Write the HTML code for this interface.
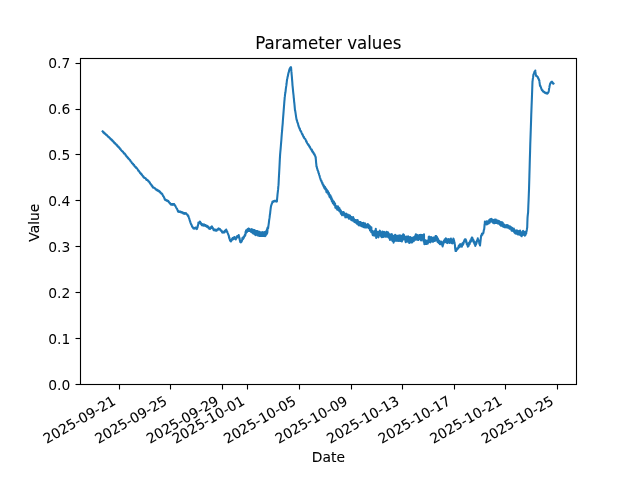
<!DOCTYPE html>
<html lang="en">
<head>
<meta charset="utf-8">
<title>Parameter values</title>
<style>
html,body{margin:0;padding:0;background:#fff;}
body{width:640px;height:480px;overflow:hidden;}
svg{display:block;}
text{font-family:'DejaVu Sans', 'Liberation Sans', sans-serif;fill:#000;}
.t{font-size:13.889px;}
.ttl{font-size:16.667px;}
.ax{stroke:#000;stroke-width:1.111;fill:none;}
</style>
</head>
<body>
<svg width="640" height="480" viewBox="0 0 640 480">
<rect x="0" y="0" width="640" height="480" fill="#fff"/>
<path d="M102.60 131.31 L102.85 131.46 L103.10 132.13 L103.35 132.55 L103.60 132.05 L103.85 132.41 L104.10 132.68 L104.35 133.29 L104.60 133.63 L104.85 133.72 L105.10 133.45 L105.35 134.17 L105.60 134.54 L105.85 134.58 L106.10 134.39 L106.25 135.00 L106.35 135.05 L106.60 134.79 L106.85 135.20 L107.10 135.29 L107.35 135.68 L107.60 136.37 L107.85 136.67 L108.10 136.40 L108.35 136.60 L108.60 136.69 L108.85 137.52 L109.10 137.11 L109.35 137.50 L109.60 137.72 L109.85 137.94 L110.10 138.60 L110.35 138.46 L110.60 139.17 L110.85 139.36 L111.10 139.02 L111.35 139.81 L111.60 139.59 L111.85 139.75 L112.10 140.64 L112.35 140.78 L112.50 140.42 L112.60 140.49 L112.85 141.28 L113.10 141.16 L113.35 141.84 L113.60 141.58 L113.85 142.32 L114.10 142.73 L114.35 142.96 L114.60 143.22 L114.85 142.85 L115.10 143.66 L115.35 143.49 L115.60 143.72 L115.85 144.41 L116.10 144.58 L116.35 144.90 L116.60 144.60 L116.85 144.96 L117.10 145.34 L117.35 146.11 L117.60 145.69 L117.85 146.09 L118.10 146.37 L118.35 147.14 L118.60 146.72 L118.75 147.00 L118.85 147.48 L119.10 147.81 L119.35 147.71 L119.60 147.87 L119.85 148.79 L120.10 149.05 L120.35 149.19 L120.60 149.16 L120.85 149.84 L121.10 150.02 L121.35 150.43 L121.60 150.60 L121.85 151.05 L122.10 151.31 L122.35 151.10 L122.60 151.74 L122.85 151.70 L123.10 151.88 L123.35 152.61 L123.60 152.93 L123.85 152.85 L124.10 153.56 L124.35 153.27 L124.60 153.59 L124.85 153.83 L125.10 154.10 L125.35 154.42 L125.60 155.29 L125.85 155.64 L126.10 155.29 L126.35 156.16 L126.60 156.59 L126.85 156.92 L127.10 156.72 L127.35 156.85 L127.60 157.64 L127.85 158.07 L128.10 157.77 L128.35 158.68 L128.60 158.52 L128.85 158.76 L129.10 159.22 L129.35 159.33 L129.60 159.71 L129.85 160.00 L130.00 160.29 L130.10 160.32 L130.35 160.58 L130.60 161.41 L130.85 161.24 L131.10 161.60 L131.35 161.89 L131.60 162.04 L131.85 162.92 L132.10 163.25 L132.35 163.42 L132.60 163.81 L132.85 163.51 L133.10 163.91 L133.35 164.77 L133.60 164.86 L133.85 164.84 L134.10 165.00 L134.35 165.92 L134.60 166.21 L134.85 166.44 L135.10 166.74 L135.35 166.55 L135.60 166.87 L135.85 167.52 L136.00 167.79 L136.10 167.25 L136.35 167.57 L136.60 167.89 L136.85 168.19 L137.10 168.50 L137.35 168.88 L137.60 169.30 L137.85 169.65 L138.10 170.28 L138.35 170.75 L138.60 170.53 L138.85 170.84 L139.10 171.14 L139.35 171.86 L139.60 171.87 L139.85 172.56 L140.10 172.97 L140.35 173.27 L140.60 173.05 L140.85 173.23 L141.10 174.18 L141.35 173.87 L141.60 174.77 L141.85 174.55 L142.10 175.29 L142.35 175.61 L142.60 175.61 L142.85 175.77 L143.10 176.64 L143.35 176.43 L143.50 176.58 L143.60 177.25 L143.85 177.42 L144.10 177.74 L144.35 177.97 L144.60 178.07 L144.85 177.92 L145.10 178.02 L145.35 178.27 L145.60 178.50 L145.85 178.59 L146.10 179.39 L146.35 179.64 L146.60 179.85 L146.85 179.65 L147.10 179.74 L147.35 179.89 L147.60 180.20 L147.85 180.39 L148.10 180.74 L148.35 181.49 L148.50 180.95 L148.60 181.54 L148.85 181.35 L149.10 181.68 L149.35 181.89 L149.60 182.86 L149.85 182.50 L150.00 183.29 L150.10 183.46 L150.35 183.82 L150.60 183.71 L150.85 184.36 L151.10 184.76 L151.35 184.76 L151.60 185.60 L151.85 185.43 L152.10 185.63 L152.35 186.66 L152.60 186.33 L152.85 186.91 L153.10 187.74 L153.35 187.40 L153.60 187.50 L153.85 187.74 L154.10 187.78 L154.35 187.89 L154.60 188.07 L154.85 188.34 L155.10 188.58 L155.35 188.74 L155.60 189.51 L155.85 189.08 L156.10 189.14 L156.25 189.74 L156.35 189.39 L156.60 190.01 L156.85 189.71 L157.10 190.32 L157.35 189.89 L157.60 190.67 L157.85 190.17 L158.10 191.02 L158.35 190.59 L158.60 191.16 L158.85 191.31 L159.10 190.86 L159.35 191.72 L159.40 191.16 L159.60 191.86 L159.85 191.51 L160.10 192.43 L160.35 192.07 L160.60 192.89 L160.85 192.98 L161.10 193.22 L161.35 193.59 L161.60 193.71 L161.85 193.42 L162.10 194.20 L162.35 194.03 L162.50 194.59 L162.60 194.95 L162.85 195.42 L163.10 195.99 L163.35 195.98 L163.60 196.55 L163.85 196.94 L164.10 197.91 L164.35 197.91 L164.60 199.00 L164.85 199.13 L165.00 199.27 L165.10 199.91 L165.35 199.39 L165.60 200.20 L165.85 199.85 L166.10 199.94 L166.35 200.09 L166.60 200.59 L166.85 200.22 L167.10 200.37 L167.35 201.08 L167.60 201.07 L167.85 201.12 L168.10 200.84 L168.35 201.65 L168.60 201.33 L168.85 202.26 L169.10 202.07 L169.35 202.83 L169.60 203.11 L169.85 202.85 L170.10 203.56 L170.35 203.92 L170.60 203.70 L170.85 204.29 L171.10 204.68 L171.25 204.44 L171.35 204.35 L171.60 204.19 L171.85 204.67 L172.10 204.78 L172.35 204.85 L172.60 204.11 L172.85 204.74 L173.10 204.11 L173.35 204.22 L173.60 204.06 L173.85 204.70 L174.10 203.96 L174.35 204.86 L174.60 204.73 L174.85 205.23 L175.10 205.38 L175.35 206.24 L175.60 206.28 L175.85 206.97 L176.10 207.40 L176.25 207.54 L176.35 207.86 L176.60 208.45 L176.85 208.51 L177.10 209.03 L177.35 210.05 L177.60 210.08 L177.85 211.03 L178.10 211.73 L178.35 211.21 L178.60 211.30 L178.85 211.90 L179.10 211.43 L179.35 211.99 L179.60 211.55 L179.85 211.62 L180.10 211.65 L180.35 211.58 L180.60 212.20 L180.85 212.31 L181.10 211.84 L181.25 212.43 L181.35 212.01 L181.60 211.95 L181.85 212.08 L182.10 212.78 L182.35 212.47 L182.60 212.39 L182.85 212.52 L183.10 213.32 L183.35 213.42 L183.60 213.55 L183.75 213.00 L183.85 213.18 L184.10 213.02 L184.35 213.64 L184.60 213.12 L184.85 213.81 L185.10 213.34 L185.35 213.15 L185.60 213.39 L185.85 213.75 L186.10 213.27 L186.35 213.82 L186.60 213.94 L186.85 214.36 L187.10 214.27 L187.35 214.60 L187.60 214.84 L187.85 215.84 L188.10 216.27 L188.35 216.14 L188.40 216.04 L188.60 216.69 L188.85 217.56 L189.10 218.30 L189.35 218.85 L189.60 220.12 L189.85 220.49 L190.00 221.26 L190.10 221.18 L190.35 222.32 L190.60 223.00 L190.85 223.63 L191.10 224.31 L191.35 224.32 L191.60 225.03 L191.85 225.77 L191.90 225.93 L192.10 226.71 L192.35 226.46 L192.60 226.90 L192.85 227.79 L193.10 227.61 L193.35 228.33 L193.60 227.97 L193.85 227.97 L194.10 228.69 L194.35 228.12 L194.40 228.22 L194.60 228.56 L194.85 228.56 L195.10 228.20 L195.35 227.64 L195.60 227.48 L195.85 228.17 L196.10 228.38 L196.35 228.55 L196.60 228.66 L196.85 228.86 L196.90 229.09 L197.10 227.34 L197.35 227.83 L197.60 227.13 L197.70 225.86 L197.85 226.06 L198.10 224.86 L198.35 223.80 L198.40 222.54 L198.60 223.44 L198.85 223.24 L199.10 223.28 L199.35 222.97 L199.60 223.06 L199.85 221.65 L200.00 221.72 L200.10 222.74 L200.35 222.32 L200.60 222.42 L200.85 223.84 L201.10 223.31 L201.35 224.28 L201.60 224.85 L201.85 225.21 L201.90 224.94 L202.10 224.07 L202.35 224.34 L202.60 225.36 L202.85 224.52 L203.10 224.62 L203.35 225.40 L203.60 225.63 L203.85 224.42 L204.10 225.53 L204.35 225.54 L204.40 224.60 L204.60 224.94 L204.85 225.11 L205.10 225.94 L205.35 225.00 L205.60 225.29 L205.85 226.14 L206.10 225.62 L206.35 226.34 L206.60 226.53 L206.85 226.80 L206.90 225.79 L207.10 225.75 L207.35 226.84 L207.60 227.25 L207.85 226.29 L208.10 226.70 L208.35 227.67 L208.60 227.10 L208.85 228.33 L209.10 228.18 L209.35 228.59 L209.60 227.78 L209.85 227.98 L210.00 228.80 L210.10 228.95 L210.35 228.58 L210.60 227.56 L210.85 227.36 L211.10 228.08 L211.35 226.73 L211.60 226.71 L211.85 226.36 L211.90 226.44 L212.10 226.56 L212.35 228.16 L212.60 228.37 L212.85 227.88 L213.10 228.47 L213.35 228.80 L213.60 230.14 L213.75 229.39 L213.85 229.33 L214.10 229.36 L214.35 230.25 L214.60 229.45 L214.85 230.53 L215.10 230.43 L215.35 229.64 L215.60 229.85 L215.85 230.71 L216.10 230.77 L216.25 230.80 L216.35 230.56 L216.60 230.65 L216.85 230.41 L217.10 230.13 L217.35 229.19 L217.60 229.86 L217.85 229.79 L218.10 229.78 L218.35 228.60 L218.60 229.41 L218.75 228.49 L218.85 228.69 L219.10 228.77 L219.35 228.99 L219.60 229.15 L219.85 228.96 L220.10 229.39 L220.35 230.23 L220.60 230.38 L220.85 230.77 L221.10 230.32 L221.35 230.40 L221.60 230.72 L221.85 230.98 L222.10 232.36 L222.35 231.80 L222.50 231.86 L222.60 231.75 L222.85 232.58 L223.10 232.70 L223.35 232.35 L223.60 231.77 L223.85 231.66 L224.10 231.66 L224.35 231.44 L224.40 231.40 L224.60 232.41 L224.85 230.83 L225.10 231.63 L225.35 231.47 L225.60 230.02 L225.85 230.10 L226.10 230.57 L226.25 229.51 L226.35 230.70 L226.60 230.57 L226.85 231.80 L227.10 231.31 L227.35 231.95 L227.60 232.78 L227.85 233.40 L228.10 234.13 L228.35 234.50 L228.60 235.45 L228.85 236.14 L229.10 237.74 L229.35 237.45 L229.60 239.09 L229.85 239.70 L230.10 240.79 L230.35 240.01 L230.60 240.66 L230.85 241.49 L231.10 240.08 L231.35 240.82 L231.60 239.37 L231.85 239.29 L232.10 238.81 L232.35 239.82 L232.50 239.58 L232.60 237.99 L232.85 237.79 L233.10 239.35 L233.35 238.88 L233.60 237.60 L233.85 238.68 L234.10 238.03 L234.35 237.06 L234.40 237.05 L234.60 238.31 L234.85 238.67 L235.10 238.84 L235.35 238.05 L235.60 239.33 L235.85 239.43 L236.10 237.48 L236.35 237.38 L236.60 237.98 L236.85 236.28 L236.90 236.46 L237.10 237.34 L237.35 237.31 L237.60 236.12 L237.85 235.74 L238.10 236.76 L238.35 236.83 L238.60 236.66 L238.75 235.13 L238.85 235.88 L239.10 236.56 L239.35 238.52 L239.60 238.19 L239.85 240.27 L240.10 241.27 L240.35 242.24 L240.60 241.86 L240.85 242.37 L241.10 242.00 L241.35 241.90 L241.60 241.12 L241.85 240.95 L242.10 240.40 L242.35 238.48 L242.50 237.73 L242.60 237.96 L242.85 237.72 L243.10 238.99 L243.35 237.49 L243.60 236.87 L243.85 237.94 L244.10 236.35 L244.35 236.40 L244.40 236.38 L244.60 235.61 L244.85 234.83 L245.10 235.76 L245.35 234.94 L245.60 231.89 L245.85 233.41 L246.10 230.34 L246.25 230.23 L246.35 232.43 L246.60 230.11 L246.85 232.08 L247.10 231.50 L247.35 229.47 L247.60 229.20 L247.85 230.83 L248.00 228.94 L248.10 230.92 L248.35 230.56 L248.60 228.45 L248.85 230.96 L249.10 228.67 L249.35 230.85 L249.60 230.54 L249.85 230.40 L250.00 230.58 L250.10 230.75 L250.35 230.82 L250.60 231.26 L250.85 231.69 L251.10 229.19 L251.35 231.86 L251.60 229.37 L251.85 229.30 L252.10 232.34 L252.35 230.05 L252.50 229.50 L252.60 232.97 L252.85 230.26 L253.10 229.98 L253.35 233.56 L253.60 230.14 L253.85 233.38 L254.10 233.65 L254.35 234.08 L254.60 230.03 L254.85 234.41 L255.10 234.50 L255.35 234.50 L255.60 235.08 L255.85 231.01 L256.10 234.73 L256.25 231.40 L256.35 230.96 L256.60 234.82 L256.85 234.59 L257.10 234.84 L257.35 231.09 L257.60 235.47 L257.85 231.30 L258.10 234.77 L258.35 231.63 L258.60 235.33 L258.75 231.72 L258.85 235.25 L259.10 235.81 L259.35 231.74 L259.60 235.87 L259.85 232.03 L260.10 235.98 L260.35 236.04 L260.60 235.49 L260.85 232.65 L261.10 235.78 L261.35 232.34 L261.60 232.78 L261.85 236.02 L261.90 232.65 L262.10 235.86 L262.35 232.42 L262.60 232.22 L262.85 235.99 L263.10 232.37 L263.35 235.98 L263.60 232.76 L263.85 236.02 L264.10 232.18 L264.35 232.74 L264.60 232.09 L264.85 232.34 L265.00 233.12 L265.10 236.21 L265.35 235.82 L265.60 235.51 L265.85 231.36 L266.10 234.68 L266.35 234.55 L266.60 234.00 L266.85 229.84 L267.10 233.48 L267.30 228.17 L267.35 232.54 L267.60 227.80 L267.85 227.31 L268.10 228.33 L268.35 226.44 L268.60 224.55 L268.85 222.77 L269.10 220.53 L269.35 218.74 L269.40 218.52 L269.60 217.42 L269.85 215.00 L270.10 213.61 L270.35 211.18 L270.60 209.22 L270.85 207.23 L271.00 206.40 L271.10 205.81 L271.35 205.03 L271.60 204.32 L271.85 203.62 L272.10 203.43 L272.35 202.05 L272.50 201.58 L272.60 201.99 L272.85 202.10 L273.10 201.47 L273.35 201.24 L273.60 201.74 L273.85 201.51 L274.10 201.48 L274.35 200.75 L274.40 200.74 L274.60 201.29 L274.85 201.20 L275.10 200.76 L275.35 201.24 L275.60 200.84 L275.85 201.41 L276.10 200.86 L276.35 201.47 L276.60 200.99 L276.85 201.58 L276.90 201.49 L277.10 199.00 L277.35 196.41 L277.50 194.69 L277.60 193.70 L277.85 191.68 L278.10 189.38 L278.35 186.14 L278.50 185.18 L278.60 183.40 L278.85 178.02 L279.10 173.64 L279.35 168.97 L279.60 164.08 L279.85 158.86 L280.00 156.43 L280.10 154.68 L280.35 151.74 L280.60 149.08 L280.85 145.96 L281.10 142.90 L281.35 140.00 L281.60 136.35 L281.85 133.21 L282.10 130.71 L282.35 127.06 L282.60 124.59 L282.75 122.81 L282.85 120.97 L283.10 117.70 L283.35 114.61 L283.60 111.42 L283.85 108.05 L284.10 105.02 L284.35 101.66 L284.60 99.07 L284.70 97.30 L284.85 96.70 L285.10 94.14 L285.35 92.80 L285.60 91.10 L285.85 88.59 L286.10 86.86 L286.35 85.41 L286.60 83.49 L286.85 81.09 L287.10 79.18 L287.20 78.95 L287.35 78.40 L287.60 76.87 L287.85 76.22 L288.10 74.78 L288.35 73.50 L288.60 72.53 L288.85 72.02 L289.10 70.54 L289.35 69.84 L289.40 69.23 L289.60 68.94 L289.85 68.58 L290.10 68.04 L290.35 67.77 L290.60 67.23 L290.85 67.59 L291.00 67.13 L291.10 67.80 L291.35 71.14 L291.50 72.23 L291.60 74.02 L291.85 76.64 L292.10 79.80 L292.35 82.89 L292.50 85.32 L292.60 86.15 L292.85 88.64 L293.10 91.34 L293.35 93.65 L293.60 95.75 L293.75 97.86 L293.85 98.15 L294.10 101.32 L294.35 103.25 L294.60 105.87 L294.85 108.75 L295.00 110.30 L295.10 110.24 L295.35 111.75 L295.60 113.32 L295.85 115.21 L296.10 116.83 L296.35 118.30 L296.60 119.73 L296.70 119.68 L296.85 120.10 L297.10 121.10 L297.35 122.23 L297.60 122.65 L297.85 123.35 L298.10 124.16 L298.35 125.43 L298.60 126.19 L298.85 127.09 L299.10 127.18 L299.35 128.23 L299.60 128.84 L299.85 128.65 L300.10 130.12 L300.35 130.61 L300.60 131.06 L300.85 131.07 L301.10 132.05 L301.35 132.07 L301.40 132.32 L301.60 132.66 L301.85 133.59 L302.10 134.08 L302.35 134.46 L302.60 134.31 L302.85 135.51 L303.10 135.91 L303.35 136.49 L303.60 136.97 L303.75 137.28 L303.85 136.76 L304.10 137.91 L304.35 138.35 L304.60 138.54 L304.85 138.52 L305.10 138.81 L305.35 139.26 L305.60 139.78 L305.85 140.17 L306.10 141.30 L306.35 141.73 L306.60 141.32 L306.85 142.66 L307.10 142.94 L307.35 143.34 L307.60 143.70 L307.85 144.20 L308.10 144.07 L308.35 144.37 L308.40 145.13 L308.60 144.87 L308.85 145.26 L309.10 146.13 L309.35 146.09 L309.60 147.19 L309.85 146.90 L310.10 147.22 L310.35 148.15 L310.60 148.52 L310.85 149.13 L311.10 149.40 L311.35 149.88 L311.60 149.46 L311.85 150.67 L312.10 150.26 L312.35 151.44 L312.60 151.95 L312.85 151.57 L313.10 152.66 L313.35 153.04 L313.60 152.61 L313.85 153.85 L314.10 154.36 L314.35 154.52 L314.60 154.21 L314.85 155.47 L315.10 155.95 L315.35 156.18 L315.50 156.52 L315.60 157.51 L315.85 159.24 L316.10 162.58 L316.35 164.67 L316.50 166.77 L316.60 166.35 L316.85 167.14 L317.10 168.64 L317.35 168.85 L317.60 170.36 L317.85 170.45 L318.10 171.18 L318.30 171.55 L318.35 172.45 L318.60 173.28 L318.85 173.28 L319.10 174.79 L319.35 175.19 L319.60 175.86 L319.85 177.26 L320.10 178.03 L320.35 178.40 L320.60 179.61 L320.85 180.18 L321.10 180.91 L321.35 180.63 L321.60 181.36 L321.80 182.32 L321.85 182.53 L322.10 183.06 L322.35 182.63 L322.60 184.26 L322.85 184.86 L323.10 184.37 L323.35 185.71 L323.60 185.27 L323.75 186.67 L323.85 185.49 L324.10 187.59 L324.35 186.49 L324.60 188.37 L324.85 188.30 L325.10 187.06 L325.35 189.45 L325.60 188.65 L325.85 188.47 L326.10 189.46 L326.25 189.01 L326.35 191.88 L326.60 192.22 L326.85 192.52 L327.10 190.07 L327.35 191.55 L327.60 190.85 L327.85 191.23 L328.10 191.69 L328.35 194.34 L328.60 192.97 L328.85 192.89 L329.10 193.52 L329.35 196.02 L329.40 196.64 L329.60 196.63 L329.85 197.17 L330.10 197.58 L330.35 195.39 L330.60 196.11 L330.85 196.81 L331.10 199.15 L331.35 197.32 L331.60 200.03 L331.85 201.20 L332.10 199.07 L332.35 199.71 L332.50 200.01 L332.60 201.86 L332.85 203.12 L333.10 203.05 L333.35 201.11 L333.60 204.02 L333.85 201.75 L334.10 202.08 L334.35 205.09 L334.60 205.41 L334.85 205.18 L335.10 203.56 L335.35 207.60 L335.60 207.50 L335.85 205.95 L336.10 206.21 L336.35 208.37 L336.60 208.37 L336.85 206.24 L337.10 209.25 L337.35 209.71 L337.60 208.71 L337.85 207.36 L338.10 206.40 L338.35 209.88 L338.60 210.37 L338.75 207.75 L338.85 208.47 L339.10 210.44 L339.35 208.14 L339.60 211.39 L339.85 209.46 L340.00 211.07 L340.10 209.57 L340.35 211.93 L340.60 210.27 L340.85 213.61 L341.10 211.07 L341.35 211.77 L341.60 214.01 L341.85 212.20 L341.90 214.17 L342.10 215.20 L342.35 214.40 L342.60 212.31 L342.85 214.65 L343.10 212.95 L343.35 214.64 L343.60 211.97 L343.85 212.82 L344.10 215.48 L344.35 213.16 L344.60 213.53 L344.85 213.99 L345.10 214.73 L345.35 217.33 L345.60 216.80 L345.85 217.08 L346.10 213.91 L346.25 217.14 L346.35 213.81 L346.60 216.74 L346.85 214.42 L347.10 217.08 L347.35 217.15 L347.60 216.86 L347.85 214.63 L348.10 215.87 L348.35 215.64 L348.60 215.10 L348.85 218.71 L349.10 218.63 L349.35 218.52 L349.60 215.37 L349.85 216.05 L350.10 215.66 L350.35 218.85 L350.60 218.90 L350.85 216.82 L351.10 217.58 L351.35 220.08 L351.60 220.27 L351.85 217.35 L352.10 217.45 L352.35 217.42 L352.50 219.20 L352.60 217.59 L352.85 220.64 L353.10 217.15 L353.35 217.92 L353.60 220.46 L353.85 220.61 L354.10 219.04 L354.35 221.98 L354.60 219.81 L354.85 221.66 L355.10 220.01 L355.35 222.28 L355.60 222.18 L355.85 220.04 L356.10 220.97 L356.35 223.01 L356.60 220.32 L356.85 223.60 L357.10 223.14 L357.35 223.11 L357.60 220.11 L357.85 220.98 L358.10 224.41 L358.35 223.69 L358.60 225.10 L358.75 224.99 L358.85 221.67 L359.10 225.46 L359.35 222.84 L359.60 225.01 L359.85 224.75 L360.10 221.94 L360.35 222.49 L360.60 225.34 L360.85 222.19 L361.10 223.02 L361.35 226.22 L361.60 225.98 L361.85 223.81 L362.10 223.59 L362.35 223.09 L362.60 223.82 L362.85 226.73 L363.10 226.26 L363.35 222.77 L363.60 224.05 L363.85 227.25 L364.10 226.58 L364.35 224.61 L364.60 224.03 L364.85 227.41 L365.00 223.39 L365.10 224.13 L365.35 224.37 L365.60 227.43 L365.85 227.42 L366.10 224.94 L366.35 227.07 L366.60 227.35 L366.85 225.67 L367.10 224.66 L367.35 224.74 L367.60 225.29 L367.85 224.11 L368.10 225.39 L368.35 224.76 L368.60 228.23 L368.85 225.23 L369.10 225.38 L369.35 225.94 L369.60 225.83 L369.85 226.33 L370.00 230.56 L370.10 230.11 L370.35 227.36 L370.60 230.16 L370.85 227.86 L371.10 227.60 L371.25 232.21 L371.35 227.33 L371.60 232.48 L371.85 231.96 L372.10 232.89 L372.35 230.73 L372.60 234.65 L372.80 235.11 L372.85 231.76 L373.10 234.84 L373.35 231.78 L373.60 232.32 L373.85 235.35 L374.10 232.64 L374.35 235.59 L374.40 231.23 L374.60 234.41 L374.85 235.16 L375.10 230.51 L375.35 234.71 L375.60 234.16 L375.80 228.90 L375.85 230.42 L376.10 234.89 L376.20 238.00 L376.35 235.28 L376.60 236.10 L376.85 232.26 L377.10 231.75 L377.35 236.45 L377.50 232.47 L377.60 231.89 L377.85 231.93 L378.10 236.43 L378.35 237.35 L378.60 236.73 L378.85 232.29 L379.10 231.69 L379.35 231.79 L379.60 231.51 L379.85 230.66 L380.10 232.22 L380.35 235.23 L380.60 232.15 L380.85 232.62 L381.10 236.32 L381.35 232.44 L381.60 236.93 L381.85 237.20 L382.10 235.32 L382.35 231.48 L382.60 235.50 L382.85 236.44 L383.10 232.99 L383.35 236.95 L383.60 235.90 L383.85 232.38 L384.10 231.83 L384.35 232.02 L384.60 235.76 L384.85 236.00 L385.10 236.45 L385.35 236.76 L385.60 232.44 L385.85 233.24 L386.10 232.44 L386.35 235.35 L386.60 231.84 L386.85 235.11 L387.10 236.79 L387.35 236.80 L387.60 236.40 L387.85 232.22 L388.10 232.51 L388.35 232.92 L388.60 237.48 L388.75 235.80 L388.85 237.62 L389.10 234.07 L389.35 238.39 L389.60 238.13 L389.85 234.18 L390.00 239.93 L390.10 234.43 L390.35 234.71 L390.60 236.19 L390.85 238.71 L391.10 238.68 L391.35 234.35 L391.60 234.37 L391.85 234.14 L392.10 240.32 L392.35 240.83 L392.60 240.77 L392.85 235.90 L393.10 235.93 L393.35 236.50 L393.60 242.60 L393.60 235.77 L393.75 237.06 L393.85 236.43 L394.10 241.45 L394.35 237.17 L394.60 240.16 L394.85 239.33 L395.00 235.96 L395.10 234.83 L395.35 240.70 L395.60 239.60 L395.85 235.35 L396.10 240.05 L396.35 236.12 L396.60 240.79 L396.85 240.83 L397.10 236.74 L397.35 235.85 L397.60 238.82 L397.85 235.98 L398.10 239.57 L398.35 240.88 L398.60 239.89 L398.85 235.53 L399.10 239.56 L399.35 240.39 L399.60 236.42 L399.85 240.87 L400.00 235.30 L400.10 236.36 L400.35 240.15 L400.60 239.64 L400.85 240.84 L401.10 236.57 L401.35 235.82 L401.60 240.48 L401.85 241.47 L402.10 240.23 L402.35 240.25 L402.60 240.07 L402.85 239.01 L403.10 234.44 L403.35 234.36 L403.60 234.99 L403.75 239.31 L403.85 234.78 L404.10 235.97 L404.35 236.42 L404.60 236.49 L404.85 236.75 L405.10 237.22 L405.35 240.44 L405.60 241.70 L405.85 242.16 L406.10 236.73 L406.25 237.56 L406.35 236.43 L406.60 236.85 L406.85 240.01 L407.10 237.21 L407.35 241.29 L407.60 237.77 L407.85 241.61 L408.10 236.21 L408.35 236.83 L408.60 237.04 L408.85 241.62 L409.10 238.38 L409.35 243.08 L409.60 237.22 L409.85 237.26 L410.10 241.72 L410.35 237.10 L410.60 237.30 L410.85 240.51 L411.10 242.37 L411.35 241.00 L411.60 241.36 L411.85 238.06 L412.10 242.41 L412.35 241.62 L412.60 241.41 L412.85 238.23 L413.10 237.80 L413.35 237.21 L413.60 238.01 L413.75 241.23 L413.85 237.58 L414.10 237.10 L414.35 237.15 L414.60 237.11 L414.85 237.20 L415.00 239.75 L415.10 238.90 L415.35 235.44 L415.60 238.51 L415.85 234.17 L416.10 239.67 L416.35 234.42 L416.60 238.79 L416.85 234.96 L417.10 236.02 L417.35 238.38 L417.60 235.26 L417.85 235.49 L418.10 240.08 L418.35 235.89 L418.60 236.20 L418.85 239.38 L419.10 238.34 L419.35 235.10 L419.60 235.24 L419.85 235.08 L420.10 235.17 L420.35 238.52 L420.60 239.94 L420.85 234.85 L421.10 240.50 L421.35 235.50 L421.60 239.65 L421.85 234.97 L422.10 235.07 L422.35 239.40 L422.60 239.57 L422.85 235.69 L423.10 235.79 L423.35 236.83 L423.60 241.39 L423.85 238.00 L424.00 234.20 L424.10 242.15 L424.35 243.33 L424.40 244.17 L424.60 240.90 L424.85 241.10 L425.10 240.38 L425.35 243.58 L425.60 240.44 L425.80 243.90 L425.85 240.53 L426.10 241.17 L426.35 244.08 L426.60 243.50 L426.85 240.71 L427.10 241.65 L427.35 240.78 L427.60 243.66 L427.85 243.51 L428.10 241.08 L428.35 240.12 L428.60 241.50 L428.75 236.90 L428.85 241.84 L429.10 236.64 L429.35 236.87 L429.60 238.42 L429.85 237.64 L430.10 242.26 L430.35 242.46 L430.60 238.08 L430.85 241.79 L431.10 237.10 L431.35 240.77 L431.60 240.85 L431.85 240.60 L432.10 237.86 L432.35 240.88 L432.60 241.76 L432.85 238.44 L433.10 241.76 L433.35 237.51 L433.60 240.61 L433.85 240.79 L434.10 237.60 L434.35 240.73 L434.60 237.22 L434.85 239.67 L435.00 240.84 L435.10 239.91 L435.35 237.10 L435.60 236.11 L435.85 240.05 L436.10 236.46 L436.25 236.22 L436.35 239.42 L436.60 240.22 L436.85 240.07 L437.10 237.09 L437.35 240.99 L437.60 241.95 L437.85 238.43 L438.10 241.77 L438.35 242.40 L438.60 242.80 L438.75 242.67 L438.85 240.39 L439.10 242.96 L439.35 240.75 L439.60 243.43 L439.85 244.05 L440.10 241.59 L440.35 241.80 L440.60 241.80 L440.85 243.74 L441.10 241.56 L441.25 243.93 L441.35 244.48 L441.60 242.59 L441.85 242.20 L442.10 242.49 L442.35 244.45 L442.60 246.40 L442.60 242.91 L442.80 242.95 L442.85 242.36 L443.10 244.79 L443.35 242.30 L443.60 241.48 L443.85 240.89 L444.10 241.05 L444.35 242.53 L444.40 240.65 L444.60 239.60 L444.85 242.03 L445.10 239.14 L445.35 240.96 L445.60 241.69 L445.85 238.23 L446.10 238.66 L446.35 241.79 L446.60 242.55 L446.85 242.47 L447.10 241.96 L447.35 243.10 L447.60 239.17 L447.85 242.39 L448.10 242.26 L448.35 239.72 L448.60 239.12 L448.85 239.79 L449.10 240.11 L449.35 239.57 L449.60 243.03 L449.85 243.01 L450.10 239.15 L450.35 239.15 L450.60 239.14 L450.85 238.56 L451.10 239.80 L451.35 239.89 L451.60 240.03 L451.85 243.08 L452.10 240.01 L452.35 243.52 L452.60 243.14 L452.85 239.73 L453.10 242.05 L453.35 238.49 L453.60 239.23 L453.75 239.37 L453.85 242.59 L454.10 240.76 L454.35 242.32 L454.60 243.34 L454.85 244.74 L455.00 245.58 L455.10 247.75 L455.35 249.57 L455.60 250.99 L455.85 250.34 L456.10 250.94 L456.35 249.59 L456.60 250.01 L456.85 248.69 L457.10 248.26 L457.35 249.33 L457.50 248.96 L457.60 248.75 L457.85 248.77 L458.10 248.39 L458.35 247.97 L458.60 246.14 L458.85 247.20 L459.10 245.40 L459.35 247.11 L459.60 244.93 L459.85 245.99 L460.00 244.19 L460.10 244.24 L460.35 246.46 L460.60 246.18 L460.85 244.27 L461.10 244.39 L461.35 244.97 L461.60 244.50 L461.85 246.74 L461.90 244.89 L462.10 245.83 L462.35 245.30 L462.60 243.17 L462.85 245.06 L463.10 244.22 L463.35 243.89 L463.60 243.12 L463.85 241.29 L464.10 241.08 L464.35 240.69 L464.60 239.76 L464.85 239.39 L465.10 241.29 L465.30 240.24 L465.35 240.69 L465.60 239.37 L465.85 239.83 L466.10 242.18 L466.35 241.04 L466.60 243.61 L466.85 244.57 L467.10 243.17 L467.35 243.70 L467.60 244.29 L467.80 246.74 L467.85 244.97 L468.10 244.69 L468.35 243.93 L468.60 245.87 L468.85 242.95 L469.10 244.67 L469.35 242.47 L469.60 244.10 L469.85 241.71 L470.10 242.81 L470.35 240.30 L470.60 241.91 L470.85 241.61 L471.10 240.78 L471.35 238.57 L471.60 240.11 L471.85 237.60 L472.10 237.66 L472.20 237.58 L472.35 237.81 L472.60 240.40 L472.85 239.24 L473.10 239.35 L473.35 241.66 L473.60 240.36 L473.85 242.61 L474.10 241.46 L474.35 241.92 L474.60 244.05 L474.85 243.44 L475.10 245.23 L475.30 245.89 L475.35 245.45 L475.60 243.66 L475.85 242.92 L476.10 244.46 L476.35 241.87 L476.60 243.09 L476.85 240.74 L477.10 240.38 L477.35 239.84 L477.60 240.91 L477.80 238.18 L477.85 240.58 L478.10 239.57 L478.35 240.04 L478.60 240.52 L478.85 241.37 L479.10 241.79 L479.35 243.80 L479.60 242.61 L479.85 243.77 L480.00 245.49 L480.10 244.74 L480.35 242.35 L480.60 240.46 L480.85 238.21 L481.10 235.72 L481.35 235.97 L481.60 234.57 L481.85 235.11 L482.00 233.65 L482.10 233.72 L482.35 234.72 L482.60 233.32 L482.85 233.51 L483.10 233.19 L483.35 233.13 L483.40 232.72 L483.60 231.52 L483.85 230.00 L484.10 229.58 L484.35 227.60 L484.60 224.30 L484.80 224.10 L484.85 221.65 L485.10 221.74 L485.35 224.06 L485.60 223.92 L485.85 222.26 L486.10 222.09 L486.35 224.39 L486.60 221.30 L486.85 223.35 L486.90 221.48 L487.10 221.67 L487.35 224.22 L487.60 223.27 L487.85 221.35 L488.10 223.23 L488.35 223.05 L488.60 223.49 L488.85 223.08 L489.10 222.83 L489.35 219.77 L489.60 222.73 L489.85 222.26 L490.00 219.99 L490.10 219.23 L490.35 220.15 L490.60 219.84 L490.85 221.53 L491.10 219.06 L491.35 218.86 L491.60 219.73 L491.85 221.74 L492.10 220.57 L492.35 219.73 L492.60 220.02 L492.85 219.77 L493.10 222.81 L493.35 220.08 L493.60 222.76 L493.85 223.07 L494.10 223.34 L494.35 223.25 L494.60 219.63 L494.85 219.56 L495.10 222.90 L495.35 220.53 L495.60 222.81 L495.85 219.62 L496.10 222.49 L496.25 222.82 L496.35 222.43 L496.60 220.95 L496.85 220.43 L497.10 222.94 L497.35 221.25 L497.60 221.38 L497.85 220.63 L498.10 223.63 L498.35 222.99 L498.60 220.92 L498.85 220.91 L499.10 221.16 L499.35 221.35 L499.40 221.84 L499.60 221.91 L499.85 224.64 L500.10 224.97 L500.35 222.00 L500.60 224.93 L500.85 225.67 L501.10 222.94 L501.25 222.71 L501.35 225.74 L501.60 222.47 L501.85 222.10 L502.10 225.63 L502.35 223.20 L502.60 222.67 L502.80 226.43 L502.85 223.03 L503.10 223.81 L503.35 224.39 L503.60 226.30 L503.85 226.97 L504.10 226.99 L504.35 227.01 L504.40 224.62 L504.60 225.07 L504.85 227.28 L505.10 226.95 L505.35 225.53 L505.60 227.22 L505.85 226.85 L506.10 227.44 L506.35 225.46 L506.60 225.01 L506.85 226.91 L507.10 227.19 L507.35 227.02 L507.50 227.11 L507.60 225.36 L507.85 227.72 L508.10 227.34 L508.35 225.53 L508.60 225.86 L508.85 227.69 L509.10 226.21 L509.35 228.49 L509.60 228.77 L509.85 226.96 L510.10 226.38 L510.35 226.97 L510.60 226.77 L510.85 227.49 L511.10 227.64 L511.35 229.96 L511.60 230.55 L511.85 227.83 L512.10 227.83 L512.35 230.81 L512.60 230.67 L512.85 228.98 L513.10 229.02 L513.35 231.05 L513.60 229.21 L513.75 231.42 L513.85 228.56 L514.10 231.63 L514.35 232.49 L514.60 230.46 L514.85 230.42 L515.10 233.27 L515.35 233.40 L515.60 230.42 L515.85 232.50 L516.10 233.64 L516.35 232.74 L516.60 233.58 L516.85 233.18 L516.90 230.22 L517.10 233.48 L517.35 231.42 L517.60 233.12 L517.85 234.33 L518.10 231.10 L518.35 234.35 L518.60 234.52 L518.85 234.51 L519.10 234.52 L519.35 234.65 L519.60 230.84 L519.85 231.15 L520.00 234.47 L520.10 230.55 L520.35 234.85 L520.60 234.97 L520.85 232.27 L521.10 232.40 L521.25 235.98 L521.35 232.24 L521.60 236.31 L521.85 233.12 L522.10 232.68 L522.35 235.15 L522.50 234.50 L522.60 234.43 L522.85 231.10 L523.10 230.96 L523.35 231.71 L523.60 232.37 L523.85 232.72 L524.10 231.67 L524.35 235.06 L524.60 232.93 L524.70 232.20 L524.85 235.64 L525.10 232.27 L525.35 235.26 L525.60 234.44 L525.85 231.91 L526.10 233.61 L526.25 233.13 L526.35 230.94 L526.60 231.23 L526.85 229.70 L527.10 227.83 L527.20 227.81 L527.35 222.72 L527.50 218.61 L527.60 216.89 L527.85 214.34 L528.10 212.33 L528.35 205.53 L528.60 200.05 L528.85 193.33 L529.00 189.84 L529.10 186.08 L529.35 177.18 L529.40 175.14 L529.60 168.32 L529.85 158.78 L530.10 150.67 L530.25 144.74 L530.35 141.83 L530.60 134.66 L530.85 127.19 L531.10 119.87 L531.25 114.72 L531.35 112.11 L531.60 105.39 L531.85 99.19 L531.90 97.85 L532.10 92.39 L532.35 85.17 L532.50 81.34 L532.60 81.01 L532.85 78.62 L533.10 77.48 L533.35 75.15 L533.40 74.69 L533.60 74.22 L533.85 73.51 L534.10 73.27 L534.35 71.93 L534.40 72.24 L534.60 71.45 L534.85 71.76 L535.10 71.32 L535.30 70.54 L535.35 71.43 L535.60 73.37 L535.85 74.81 L535.90 75.25 L536.10 75.86 L536.35 75.67 L536.60 75.76 L536.85 76.16 L537.10 76.41 L537.35 76.62 L537.60 76.68 L537.80 77.41 L537.85 77.13 L538.10 78.24 L538.35 78.12 L538.60 79.20 L538.85 79.30 L539.10 80.41 L539.35 80.47 L539.40 81.16 L539.60 82.79 L539.85 84.69 L540.00 85.74 L540.10 85.43 L540.35 86.06 L540.60 86.60 L540.85 87.15 L541.10 87.90 L541.35 89.07 L541.60 89.09 L541.85 89.97 L542.10 90.27 L542.35 90.05 L542.60 90.40 L542.85 91.13 L543.10 91.57 L543.35 91.34 L543.40 91.46 L543.60 91.41 L543.85 91.65 L544.10 91.67 L544.35 92.51 L544.60 92.47 L544.85 92.75 L545.10 92.94 L545.35 92.96 L545.60 92.61 L545.85 93.19 L546.10 93.31 L546.35 92.96 L546.60 93.05 L546.85 92.89 L547.10 93.14 L547.30 93.68 L547.35 93.69 L547.60 93.36 L547.85 92.59 L548.10 92.78 L548.35 92.41 L548.60 91.63 L548.85 90.71 L549.10 88.53 L549.30 87.74 L549.35 87.48 L549.60 85.91 L549.85 84.87 L550.10 83.85 L550.20 83.77 L550.35 83.66 L550.60 82.78 L550.85 82.44 L551.10 82.58 L551.20 82.13 L551.35 81.97 L551.60 82.54 L551.85 81.85 L552.10 81.93 L552.20 81.88 L552.35 82.06 L552.60 82.95 L552.85 83.33 L553.10 83.11 L553.35 83.33 L553.50 83.55" fill="none" stroke="#1f77b4" stroke-width="2.083" stroke-linejoin="round" stroke-linecap="square"/>
<g class="ax">
<line x1="119.5" y1="384.5" x2="119.5" y2="389.5"/>
<line x1="170.5" y1="384.5" x2="170.5" y2="389.5"/>
<line x1="222.5" y1="384.5" x2="222.5" y2="389.5"/>
<line x1="247.5" y1="384.5" x2="247.5" y2="389.5"/>
<line x1="299.5" y1="384.5" x2="299.5" y2="389.5"/>
<line x1="351.5" y1="384.5" x2="351.5" y2="389.5"/>
<line x1="402.5" y1="384.5" x2="402.5" y2="389.5"/>
<line x1="454.5" y1="384.5" x2="454.5" y2="389.5"/>
<line x1="505.5" y1="384.5" x2="505.5" y2="389.5"/>
<line x1="557.5" y1="384.5" x2="557.5" y2="389.5"/>
<line x1="75.5" y1="384.5" x2="80.5" y2="384.5"/>
<line x1="75.5" y1="338.5" x2="80.5" y2="338.5"/>
<line x1="75.5" y1="292.5" x2="80.5" y2="292.5"/>
<line x1="75.5" y1="246.5" x2="80.5" y2="246.5"/>
<line x1="75.5" y1="200.5" x2="80.5" y2="200.5"/>
<line x1="75.5" y1="154.5" x2="80.5" y2="154.5"/>
<line x1="75.5" y1="109.5" x2="80.5" y2="109.5"/>
<line x1="75.5" y1="63.5" x2="80.5" y2="63.5"/>
<rect x="80.5" y="58.5" width="496" height="326"/>
</g>
<g class="t">
<text text-anchor="end" transform="translate(116.68 403.72) rotate(-30)" stroke="#000" stroke-width="0.09">2025-09-21</text>
<text text-anchor="end" transform="translate(168.22 403.72) rotate(-30)" stroke="#000" stroke-width="0.09">2025-09-25</text>
<text text-anchor="end" transform="translate(219.76 403.72) rotate(-30)" stroke="#000" stroke-width="0.09">2025-09-29</text>
<text text-anchor="end" transform="translate(245.53 403.72) rotate(-30)" stroke="#000" stroke-width="0.09">2025-10-01</text>
<text text-anchor="end" transform="translate(297.07 403.72) rotate(-30)" stroke="#000" stroke-width="0.09">2025-10-05</text>
<text text-anchor="end" transform="translate(348.61 403.72) rotate(-30)" stroke="#000" stroke-width="0.09">2025-10-09</text>
<text text-anchor="end" transform="translate(400.15 403.72) rotate(-30)" stroke="#000" stroke-width="0.09">2025-10-13</text>
<text text-anchor="end" transform="translate(451.69 403.72) rotate(-30)" stroke="#000" stroke-width="0.09">2025-10-17</text>
<text text-anchor="end" transform="translate(503.23 403.72) rotate(-30)" stroke="#000" stroke-width="0.09">2025-10-21</text>
<text text-anchor="end" transform="translate(554.77 403.72) rotate(-30)" stroke="#000" stroke-width="0.09">2025-10-25</text>
<text text-anchor="end" x="70.28" y="390.28">0.0</text>
<text text-anchor="end" x="70.28" y="344.38">0.1</text>
<text text-anchor="end" x="70.28" y="298.48">0.2</text>
<text text-anchor="end" x="70.28" y="251.63">0.3</text>
<text text-anchor="end" x="70.28" y="205.73">0.4</text>
<text text-anchor="end" x="70.28" y="159.83">0.5</text>
<text text-anchor="end" x="70.28" y="113.93">0.6</text>
<text text-anchor="end" x="70.28" y="68.02">0.7</text>
<text text-anchor="middle" x="328.4" y="461.88" stroke="#000" stroke-width="0.07">Date</text>
<text text-anchor="middle" transform="translate(39.2 222.7) rotate(-90)" stroke="#000" stroke-width="0.14">Value</text>
</g>
<text class="ttl" text-anchor="middle" transform="translate(328.3 49.1) scale(1 1.08)" stroke="#000" stroke-width="0.07">Parameter values</text>
</svg>
</body>
</html>
